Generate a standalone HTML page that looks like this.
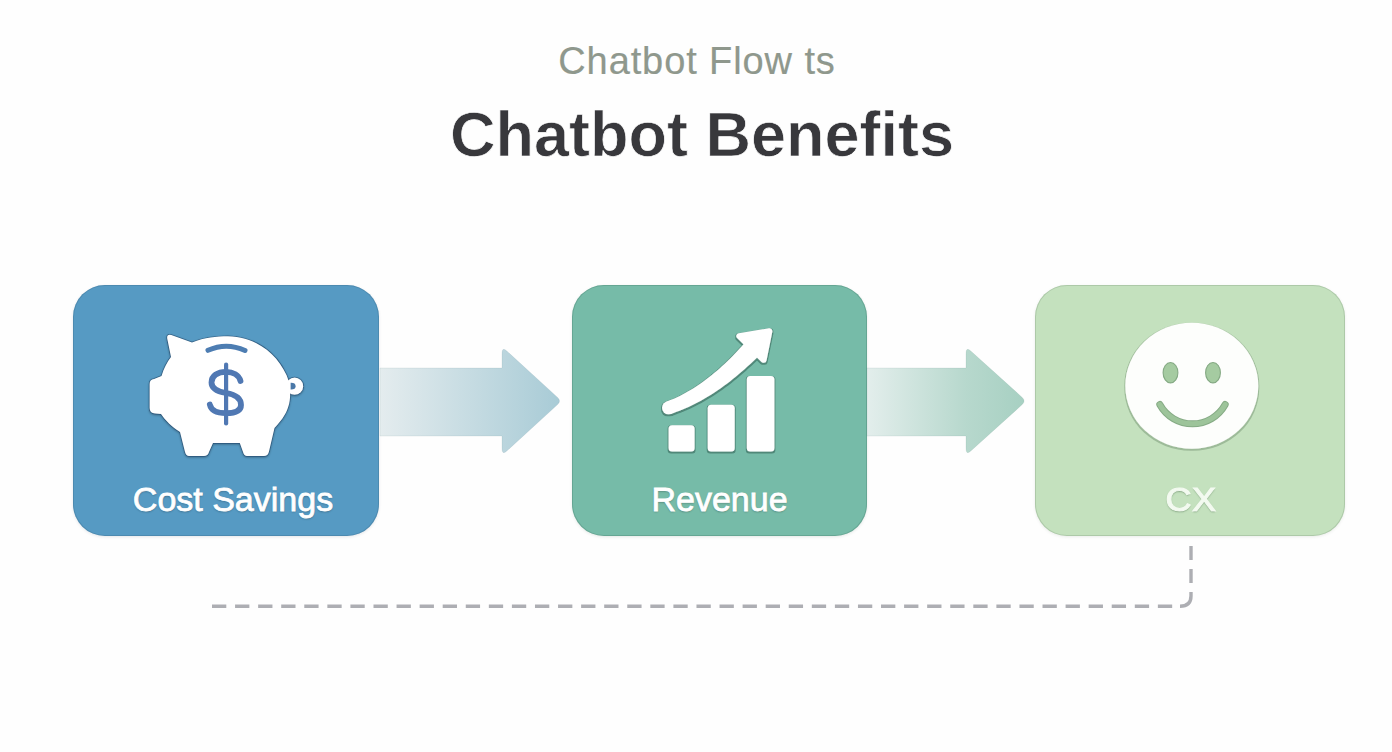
<!DOCTYPE html>
<html><head><meta charset="utf-8">
<style>
html,body{margin:0;padding:0;}
body{width:1392px;height:752px;background:#fefefe;position:relative;overflow:hidden;font-family:"Liberation Sans",sans-serif;}
.abs{position:absolute;}
#sub{left:1px;width:1392px;top:38.5px;text-align:center;font-size:38px;color:#8f988d;white-space:nowrap;letter-spacing:0.9px;-webkit-text-stroke:0.2px #8f988d;line-height:44px;}
#title{left:6px;width:1392px;top:98px;text-align:center;font-size:63px;font-weight:bold;color:#38383c;-webkit-text-stroke:0.7px #fefefe;white-space:nowrap;line-height:72px;}
.box{position:absolute;top:285px;height:251px;border-radius:32px;box-sizing:border-box;}
#b1{left:73px;width:306px;background:#569ac3;box-shadow:0 1px 3px rgba(40,60,80,.12), inset 0 0 0 1px rgba(40,80,110,.22);}
#b2{left:572px;width:295px;background:#76bba8;box-shadow:0 1px 3px rgba(40,70,60,.12), inset 0 0 0 1px rgba(40,90,75,.22);}
#b3{left:1035px;width:310px;background:#c4e1be;box-shadow:0 1px 3px rgba(60,80,60,.10), inset 0 0 0 1px rgba(90,120,90,.22);}
.lbl{position:absolute;left:0;right:0;text-align:center;color:#fff;font-size:34px;top:193.5px;line-height:40px;-webkit-text-stroke:0.8px currentColor;white-space:nowrap;text-shadow:0 1px 2px rgba(0,0,0,.3);}
</style></head><body>
<div id="sub" class="abs">Chatbot Flow ts</div>
<div id="title" class="abs">Chatbot Benefits</div>

<div id="b1" class="box"><div class="lbl" style="left:14px">Cost Savings</div></div>
<div id="b2" class="box"><div class="lbl">Revenue</div></div>
<div id="b3" class="box"><div class="lbl" style="left:3px;color:#f3faf0;-webkit-text-stroke:1.1px #f3faf0;text-shadow:0 0.5px 1.5px rgba(70,110,70,.75)"><span style="display:inline-block;transform:scaleX(1.06);letter-spacing:0.5px">CX</span></div></div>

<svg class="abs" style="left:0;top:0" width="1392" height="752">
  <defs>
    <linearGradient id="g1" x1="380" y1="0" x2="560" y2="0" gradientUnits="userSpaceOnUse">
      <stop offset="0" stop-color="#e4ecee"/><stop offset="1" stop-color="#a8cbd6"/>
    </linearGradient>
    <linearGradient id="g2" x1="867" y1="0" x2="1024" y2="0" gradientUnits="userSpaceOnUse">
      <stop offset="0" stop-color="#e3eeec"/><stop offset="0.63" stop-color="#b7d8cd"/><stop offset="1" stop-color="#a7d0c2"/>
    </linearGradient>
    <filter id="ol" x="-20%" y="-20%" width="140%" height="140%">
      <feMorphology in="SourceAlpha" operator="dilate" radius="0.8" result="d"/>
      <feGaussianBlur in="d" stdDeviation="0.4" result="db"/>
      <feOffset in="db" dx="0" dy="0.5" result="do"/>
      <feFlood flood-color="#1f4a40" flood-opacity="0.45"/>
      <feComposite in2="do" operator="in" result="o"/>
      <feMerge><feMergeNode in="o"/><feMergeNode in="SourceGraphic"/></feMerge>
    </filter>
    <filter id="ol3" x="-20%" y="-20%" width="140%" height="140%">
      <feMorphology in="SourceAlpha" operator="dilate" radius="0.7" result="d"/>
      <feGaussianBlur in="d" stdDeviation="0.5" result="db"/>
      <feOffset in="db" dx="0" dy="0.6" result="do"/>
      <feFlood flood-color="#3f5f3f" flood-opacity="0.3"/>
      <feComposite in2="do" operator="in" result="o"/>
      <feMerge><feMergeNode in="o"/><feMergeNode in="SourceGraphic"/></feMerge>
    </filter>
    <filter id="sh" x="-20%" y="-20%" width="140%" height="140%">
      <feDropShadow dx="0" dy="1" stdDeviation="0.8" flood-color="#000" flood-opacity="0.35"/>
    </filter>
  </defs>
  <!-- arrows -->
  <path d="M380 368 H502 V353.5 Q502 346.5 507.1 351.3 L557.6 397.4 Q561.5 401 557.6 404.6 L507.1 450.7 Q502 455.5 502 448.5 V436 H380 Z" fill="url(#g1)" stroke="rgba(90,120,130,.10)" stroke-width="1"/>
  <path d="M867 368 H966 V353.5 Q966 346.5 971.1 351.3 L1022.2 397.4 Q1026 401 1022.2 404.6 L971.1 450.7 Q966 455.5 966 448.5 V436 H867 Z" fill="url(#g2)" stroke="rgba(90,130,115,.10)" stroke-width="1"/>
  <!-- dashed connector -->
  <path d="M212 606.3 H1181" fill="none" stroke="#adaeb3" stroke-width="3.4" stroke-dasharray="14.3 8.77"/>
  <path d="M1191 546 V596 Q1191 606.3 1180 606.3" fill="none" stroke="#adaeb3" stroke-width="3.4" stroke-dasharray="14 9 14 9 26 100"/>

  <!-- piggy -->
  <defs>
    <path id="pigbody" d="M171 357 L167.3 339 Q166.3 333.6 171.3 335 L192 342.5 C205 337.5 216 336.3 228 336.3 C255 337 276 352 286.5 375
      C291 385 291 398 288.5 406 C286 415 280 422 274.5 428 L269 451.5 Q268 456 264 456 L247 456 Q244 456 243 452 L239.8 443
      L213 443 L209 452 Q208 456 204 456 L189 456 Q186 456 185 452 L180 432 C172 427 165 420 161 414
      L155 413.6 Q149.6 413 149.6 408 L149.6 384 Q149.6 379.5 154 379 L161.5 376 C164 368 167 362 171 357 Z"/>
  </defs>
  <g filter="url(#sh)">
    <use href="#pigbody" fill="none" stroke="rgba(30,60,95,.55)" stroke-width="1.6"/>
    <circle cx="294.6" cy="386.2" r="8.6" fill="none" stroke="rgba(30,60,95,.55)" stroke-width="1.6"/>
    <use href="#pigbody" fill="#ffffff"/>
    <circle cx="294.6" cy="386.2" r="8.6" fill="#ffffff"/>
  </g>
  <path d="M290.6 382.8 Q295.6 382.6 295.6 386.2 Q295.6 389.6 290.6 389.4 Z" fill="#4a78a8"/>
  <path d="M208 350.3 Q226.5 342 245 350.5" fill="none" stroke="#4d7db2" stroke-width="5" stroke-linecap="round"/>
  <path d="M226.1 364.5 V423.5" fill="none" stroke="#5078b3" stroke-width="4.2" stroke-linecap="round"/>
  <path d="M240.5 381 C239 375 233 371.8 226 371.8 C217.5 371.8 211.5 376 211.5 382.5 C211.5 389 217 391.5 226 393 C235.5 394.5 241 398.5 241 405 C241 411 235 413.2 226 413.2 C217 413.2 211 410 209.8 404.5" fill="none" stroke="#5078b3" stroke-width="5.8" stroke-linecap="round"/>

  <!-- chart icon -->
  <g filter="url(#ol)" fill="#ffffff">
    <rect x="668.6" y="425.2" width="26" height="26.2" rx="3.5"/>
    <rect x="707.7" y="404.7" width="27" height="46.7" rx="3.5"/>
    <rect x="746.8" y="375.9" width="27.6" height="75.5" rx="3.5"/>
    <path d="M670.6 413.9 L673.6 412.9 L676.6 411.8 L679.6 410.7 L682.6 409.5 L685.5 408.2 L688.5 406.9 L691.5 405.5 L694.5 404.0 L697.4 402.5 L700.4 400.9 L703.4 399.2 L706.3 397.5 L709.3 395.7 L712.2 393.9 L715.2 392.0 L718.1 390.0 L721.1 387.9 L724.0 385.8 L726.9 383.7 L729.9 381.4 L732.8 379.1 L735.7 376.7 L738.6 374.3 L741.5 371.8 L744.5 369.3 L747.4 366.6 L750.3 363.9 L753.2 361.2 L756.1 358.4 L759.0 355.5 L745.0 342.5 L742.5 345.4 L739.9 348.3 L737.4 351.0 L734.8 353.8 L732.2 356.4 L729.7 359.0 L727.1 361.5 L724.5 364.0 L721.9 366.3 L719.3 368.7 L716.7 370.9 L714.1 373.1 L711.5 375.3 L708.9 377.3 L706.3 379.3 L703.7 381.3 L701.0 383.2 L698.4 385.0 L695.8 386.7 L693.1 388.4 L690.5 390.0 L687.8 391.6 L685.2 393.1 L682.5 394.5 L679.8 395.9 L677.1 397.2 L674.5 398.4 L671.8 399.6 L669.1 400.6 L666.4 401.7Z"/>
    <circle cx="668.5" cy="407.8" r="6.5"/>
    <path d="M739.4 336.2 L769.4 331.2 L763.6 359.8 Z" stroke="#fff" stroke-width="6" stroke-linejoin="round"/>
  </g>

  <!-- smiley -->
  <g filter="url(#ol3)">
    <ellipse cx="1191.8" cy="385.8" rx="66.5" ry="63" fill="#fdfefc"/>
  </g>
  <ellipse cx="1170.5" cy="372.7" rx="7.4" ry="10.2" fill="#a5cba1" stroke="#84a983" stroke-width="1.1"/>
  <ellipse cx="1213" cy="372.7" rx="7.4" ry="10.2" fill="#a5cba1" stroke="#84a983" stroke-width="1.1"/>
  <path d="M1159.8 404.5 A37.3 37.3 0 0 0 1225.2 404.5" fill="none" stroke="#86ab85" stroke-width="7" stroke-linecap="round"/>
  <path d="M1159.8 404.5 A37.3 37.3 0 0 0 1225.2 404.5" fill="none" stroke="#9dc49a" stroke-width="5" stroke-linecap="round"/>
</svg>
</body></html>
